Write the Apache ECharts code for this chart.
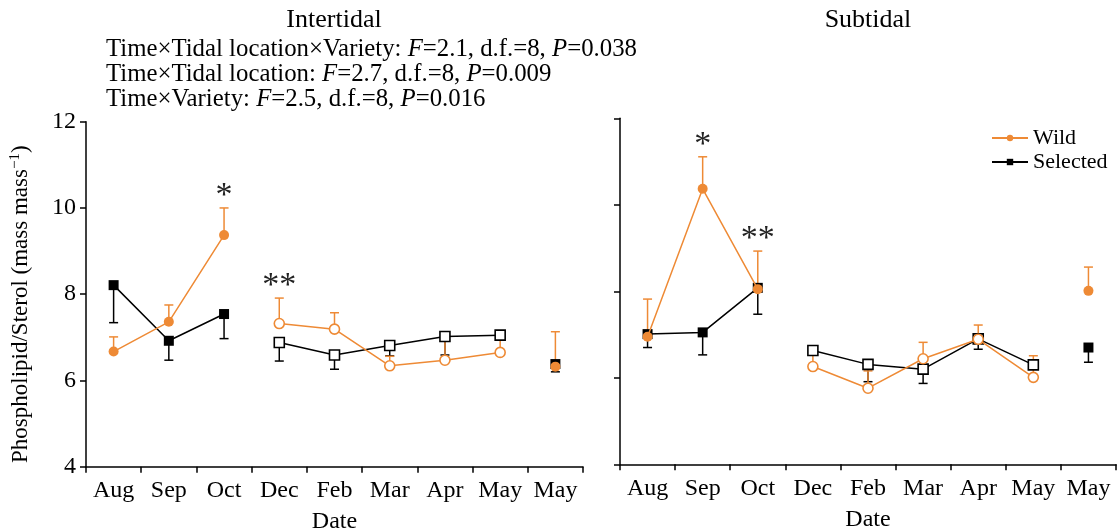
<!DOCTYPE html>
<html>
<head>
<meta charset="utf-8">
<script src="https://cdn.jsdelivr.net/npm/echarts@6/dist/echarts.min.js"></script>
<style>
  html, body { margin: 0; padding: 0; background: #fff; }
  #chart { width: 1117px; height: 531px; }
</style>
</head>
<body>
<div id="chart"></div>
<script>
// Sampling months (the last May is a separate, unconnected sample)
const months = ['Aug', 'Sep', 'Oct', 'Dec', 'Feb', 'Mar', 'Apr', 'May', 'May'];
// Line segment each month belongs to; segment 1 is drawn with open markers
const segment = [0, 0, 0, 1, 1, 1, 1, 1, 2];
const openSegment = 1;

// Intertidal: means and standard errors
const interWild   = [6.67, 7.36, 9.37, 7.32, 7.19, 6.34, 6.47, 6.65, 6.32];
const interWildSE = [0.34, 0.39, 0.63, 0.59, 0.38, 0.22, 0.50, 0.29, 0.81];
const interSel    = [8.21, 6.92, 7.54, 6.88, 6.59, 6.81, 7.02, 7.05, 6.38];
const interSelSE  = [0.87, 0.45, 0.57, 0.43, 0.33, 0.24, 0.43, 0.10, 0.18];

// Subtidal: means and standard errors
const subWild   = [6.95, 10.37, 8.05, 6.26, 5.76, 6.44, 6.89, 6.01, 8.01];
const subWildSE = [0.87, 0.74, 0.88, 0.35, 0.40, 0.38, 0.33, 0.50, 0.55];
const subSel    = [7.01, 7.05, 8.08, 6.63, 6.31, 6.20, 6.90, 6.30, 6.70];
const subSelSE  = [0.31, 0.52, 0.61, 0.05, 0.40, 0.33, 0.24, 0.05, 0.34];

// Significance marks (month index and symbol)
const interSigIdx = [2, 3];
const interSigMark = ['*', '**'];
const subSigIdx = [1, 2];
const subSigMark = ['*', '**'];

// Repeated-measures ANOVA results
const statTerms = ['Time×Tidal location×Variety', 'Time×Tidal location', 'Time×Variety'];
const statF  = ['2.1', '2.7', '2.5'];
const statDF = ['8', '8', '8'];
const statP  = ['0.038', '0.009', '0.016'];

const yMin = 4, yMax = 12, yStep = 2;

const ORANGE = '#EE8A35';
const BLACK = '#000000';
const FONT = 'Liberation Serif';

function errorBars(name, xIdx, yIdx, values, se, color, dir, z) {
  return {
    type: 'custom',
    name: name,
    xAxisIndex: xIdx, yAxisIndex: yIdx,
    z: z,
    silent: true,
    encode: { x: 0, y: 1 },
    data: values.map((v, i) => [i, v, se[i]]),
    renderItem: function (params, api) {
      const i = api.value(0), v = api.value(1), e = api.value(2);
      const p0 = api.coord([i, v]);
      const p1 = api.coord([i, v + dir * e]);
      const hw = 4.5;
      const st = { stroke: color, lineWidth: 1.5 };
      return {
        type: 'group',
        children: [
          { type: 'line', shape: { x1: p0[0], y1: p0[1], x2: p1[0], y2: p1[1] }, style: st },
          { type: 'line', shape: { x1: p1[0] - hw, y1: p1[1], x2: p1[0] + hw, y2: p1[1] }, style: st }
        ]
      };
    }
  };
}

function lineSeries(name, xIdx, yIdx, values, color, symbol, size, open, z) {
  const data = values.map((v, i) => ((segment[i] === openSegment) === open ? v : '-'));
  return {
    type: 'line',
    name: name,
    xAxisIndex: xIdx, yAxisIndex: yIdx,
    z: z,
    data: data,
    symbol: symbol,
    symbolSize: size,
    showSymbol: true,
    showAllSymbol: true,
    connectNulls: false,
    animation: false,
    lineStyle: { color: color, width: 1.5 },
    itemStyle: open
      ? { color: '#ffffff', borderColor: color, borderWidth: 1.6 }
      : { color: color, borderColor: color, borderWidth: 0 },
    emphasis: { disabled: true }
  };
}

function sigSeries(xIdx, yIdx, idx, marks, wild, wildSE) {
  return {
    type: 'custom',
    xAxisIndex: xIdx, yAxisIndex: yIdx,
    z: 6,
    silent: true,
    encode: { x: 0, y: 1 },
    data: idx.map(i => [i, wild[i] + wildSE[i]]),
    renderItem: function (params, api) {
      const p = api.coord([api.value(0), api.value(1)]);
      return {
        type: 'text',
        style: {
          text: marks[params.dataIndex],
          x: p[0], y: p[1] - 12,
          align: 'center', verticalAlign: 'middle',
          font: '34px "' + FONT + '"',
          fill: '#222'
        }
      };
    }
  };
}

function panelSeries(k, wild, wildSE, sel, selSE, sigIdx, sigMark) {
  return [
    errorBars('Selected SE', k, k, sel, selSE, BLACK, -1, 2),
    errorBars('Wild SE', k, k, wild, wildSE, ORANGE, 1, 2),
    lineSeries('Selected', k, k, sel, BLACK, 'rect', 10, false, 3),
    lineSeries('Selected', k, k, sel, BLACK, 'rect', 10, true, 3),
    lineSeries('Wild', k, k, wild, ORANGE, 'circle', 10, false, 4),
    lineSeries('Wild', k, k, wild, ORANGE, 'circle', 10, true, 4),
    sigSeries(k, k, sigIdx, sigMark, wild, wildSE)
  ];
}

const statText = statTerms.map((t, i) =>
  '{r|' + t + ': }{i|F}{r|=' + statF[i] + ', d.f.=' + statDF[i] + ', }{i|P}{r|=' + statP[i] + '}'
).join('\n');

const tickFont = { fontFamily: FONT, fontSize: 24, color: '#000' };

function xAxis(k) {
  return {
    type: 'category',
    gridIndex: k,
    data: months,
    boundaryGap: true,
    axisLine: { lineStyle: { color: BLACK, width: 1.5 } },
    axisTick: { show: true, length: 6, inside: false, lineStyle: { color: BLACK, width: 1.5 } },
    axisLabel: Object.assign({ interval: 0, margin: 12 }, tickFont),
    name: 'Date',
    nameLocation: 'middle',
    nameGap: 43,
    nameTextStyle: tickFont
  };
}

function yAxis(k, showLabels) {
  const ax = {
    type: 'value',
    gridIndex: k,
    min: yMin, max: yMax, interval: yStep,
    axisLine: { show: true, lineStyle: { color: BLACK, width: 1.5 } },
    axisTick: { show: true, length: 6, inside: false, lineStyle: { color: BLACK, width: 1.5 } },
    splitLine: { show: false },
    axisLabel: Object.assign({ show: showLabels, margin: 10 }, tickFont)
  };
  if (showLabels) {
    ax.name = '{t|Phospholipid/Sterol (mass mass}{s|\u22121}{t|)}';
    ax.nameLocation = 'middle';
    ax.nameGap = 52;
    ax.nameTextStyle = {
      padding: [0, 20, 0, 0],
      rich: {
        t: { fontFamily: FONT, fontSize: 23, color: '#000', lineHeight: 26 },
        s: { fontFamily: FONT, fontSize: 15, color: '#000', lineHeight: 14, verticalAlign: 'top' }
      }
    };
  }
  return ax;
}

const option = {
  animation: false,
  backgroundColor: '#ffffff',
  title: [
    { text: 'Intertidal', left: 334, top: 7, padding: 0, textAlign: 'center',
      textStyle: { fontFamily: FONT, fontSize: 26, fontWeight: 'normal', color: '#000' } },
    { text: 'Subtidal', left: 868, top: 7, padding: 0, textAlign: 'center',
      textStyle: { fontFamily: FONT, fontSize: 26, fontWeight: 'normal', color: '#000' } },
    { text: statText, left: 106, top: 37, padding: 0,
      textStyle: {
        fontWeight: 'normal',
        rich: {
          r: { fontFamily: FONT, fontSize: 24.8, fontWeight: 'normal', color: '#000', lineHeight: 25 },
          i: { fontFamily: FONT, fontSize: 24.8, fontWeight: 'normal', fontStyle: 'italic', color: '#000', lineHeight: 25 }
        }
      } }
  ],
  legend: {
    data: ['Wild', 'Selected'],
    orient: 'vertical',
    left: 986, top: 121,
    itemWidth: 36, itemHeight: 8,
    itemGap: 0,
    selectedMode: false,
    textStyle: { fontFamily: FONT, fontSize: 22, color: '#000', lineHeight: 24, padding: [0, 0, 0, 0] }
  },
  grid: [
    { left: 86, right: 534, top: 121.7, bottom: 64.3, containLabel: false, outerBoundsMode: 'none' },
    { left: 620, right: 1, top: 118.3, bottom: 66.7, containLabel: false, outerBoundsMode: 'none' }
  ],
  xAxis: [xAxis(0), xAxis(1)],
  yAxis: [yAxis(0, true), yAxis(1, false)],
  series: [].concat(
    panelSeries(0, interWild, interWildSE, interSel, interSelSE, interSigIdx, interSigMark),
    panelSeries(1, subWild, subWildSE, subSel, subSelSE, subSigIdx, subSigMark)
  )
};

const chart = echarts.init(document.getElementById('chart'), null, { renderer: 'canvas' });
chart.setOption(option);
</script>
</body>
</html>
